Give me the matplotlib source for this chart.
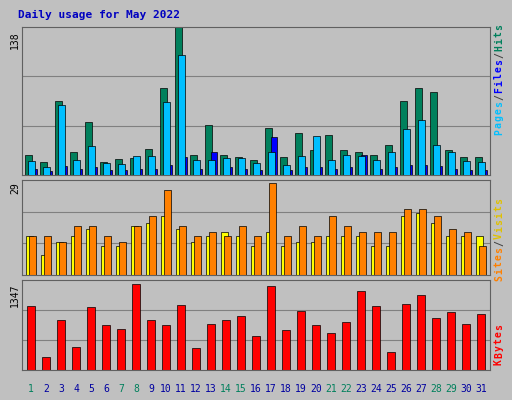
import matplotlib
matplotlib.use("Agg")
import matplotlib.pyplot as plt
import numpy as np

days = list(range(1, 32))
hits = [19,12,69,21,49,12,15,16,24,81,138,19,47,19,17,14,44,17,39,23,37,23,21,19,28,69,81,77,23,17,17]
files = [13,7,65,14,27,11,10,18,18,68,112,14,14,16,16,11,21,9,18,36,14,19,18,14,21,43,51,28,21,13,12]
pages = [6,4,8,6,7,5,5,6,6,9,17,6,21,7,6,5,35,5,7,7,6,7,19,6,7,9,9,8,6,5,5]
sites = [12,12,10,15,15,12,10,15,18,26,15,12,13,12,15,12,28,12,15,12,18,15,13,13,13,20,20,18,14,13,9]
visits = [12,6,10,12,14,9,9,15,16,18,14,10,12,13,12,9,13,9,10,10,12,12,12,9,9,18,19,16,12,12,12]
kbytes = [991,201,774,356,975,697,635,1331,774,697,1006,341,712,774,836,526,1300,619,913,697,573,743,1223,991,279,1022,1161,805,898,712,867]
weekend = {1,7,8,14,15,21,22,28,29}

W, H = 512, 400
fig = plt.figure(figsize=(W/100, H/100), dpi=100, facecolor='#C0C0C0')
x = np.array(days)
mono = 'DejaVu Sans Mono'

def mkax(top, bot, vmax):
    ax = fig.add_axes([22/W, 1-bot/H, 468/W, (bot-top)/H])
    ax.set_facecolor('#C0C0C0')
    ax.set_xlim(0.4, 31.6)
    ax.set_ylim(0, vmax)
    for v in (vmax/3, 2*vmax/3):
        ax.axhline(v, color='#808080', lw=0.8, zorder=0)
    ax.set_xticks([]); ax.set_yticks([])
    for s in ax.spines.values():
        s.set_color('#606060')
    return ax

ax1 = mkax(27, 175, 138)
ax1.bar(x-0.15, hits, 0.45, color='#00805C', edgecolor='black', lw=0.5, zorder=1)
ax1.bar(x+0.2, pages, 0.35, color='#0000FF', edgecolor='black', lw=0.5, zorder=2)
ax1.bar(x+0.05, files, 0.45, color='#00BFFF', edgecolor='black', lw=0.5, zorder=3)

ax2 = mkax(180, 275, 29)
ax2.bar(x+0.1, sites, 0.45, color='#FF8000', edgecolor='black', lw=0.5, zorder=2)
ax2.bar(x-0.1, visits, 0.45, color='#FFFF00', edgecolor='black', lw=0.5, zorder=1)

ax3 = mkax(280, 370, 1393)
ax3.bar(x, kbytes, 0.55, color='#FF0000', edgecolor='black', lw=0.5)

for d in days:
    fig.text((22 + (d-0.4)/31.2*468)/W, 1-389/H, str(d), ha='center', va='center',
             fontsize=7, family=mono, color='#00805C' if d in weekend else '#0000A0')

fig.text(18/W, 1-15/H, 'Daily usage for May 2022', fontsize=8, family=mono,
         fontweight='bold', color='#0000C0', va='center')

for txt, y in (('138', 40), ('29', 188), ('1347', 295)):
    fig.text(15/W, 1-y/H, txt, rotation=90, fontsize=7, family=mono, ha='center', va='center')

def rlabel(parts, ycenter):
    total = sum(len(p) for p, _ in parts)
    step = 7.0
    y = ycenter + total*step/2
    for p, c in parts:
        for ch in p:
            fig.text(499/W, 1-(y - step/2)/H, ch, rotation=90, fontsize=7, family=mono,
                     fontweight='bold', color=c, ha='center', va='center')
            y -= step

rlabel([('Pages', '#00BFFF'), ('/', '#404040'), ('Files', '#0000FF'), ('/', '#404040'), ('Hits', '#00805C')], 80)
rlabel([('Sites', '#FF8000'), ('/', '#404040'), ('Visits', '#E0C000')], 240)
rlabel([('KBytes', '#FF0000')], 345)

fig.savefig('out.png', dpi=100, facecolor=fig.get_facecolor())
